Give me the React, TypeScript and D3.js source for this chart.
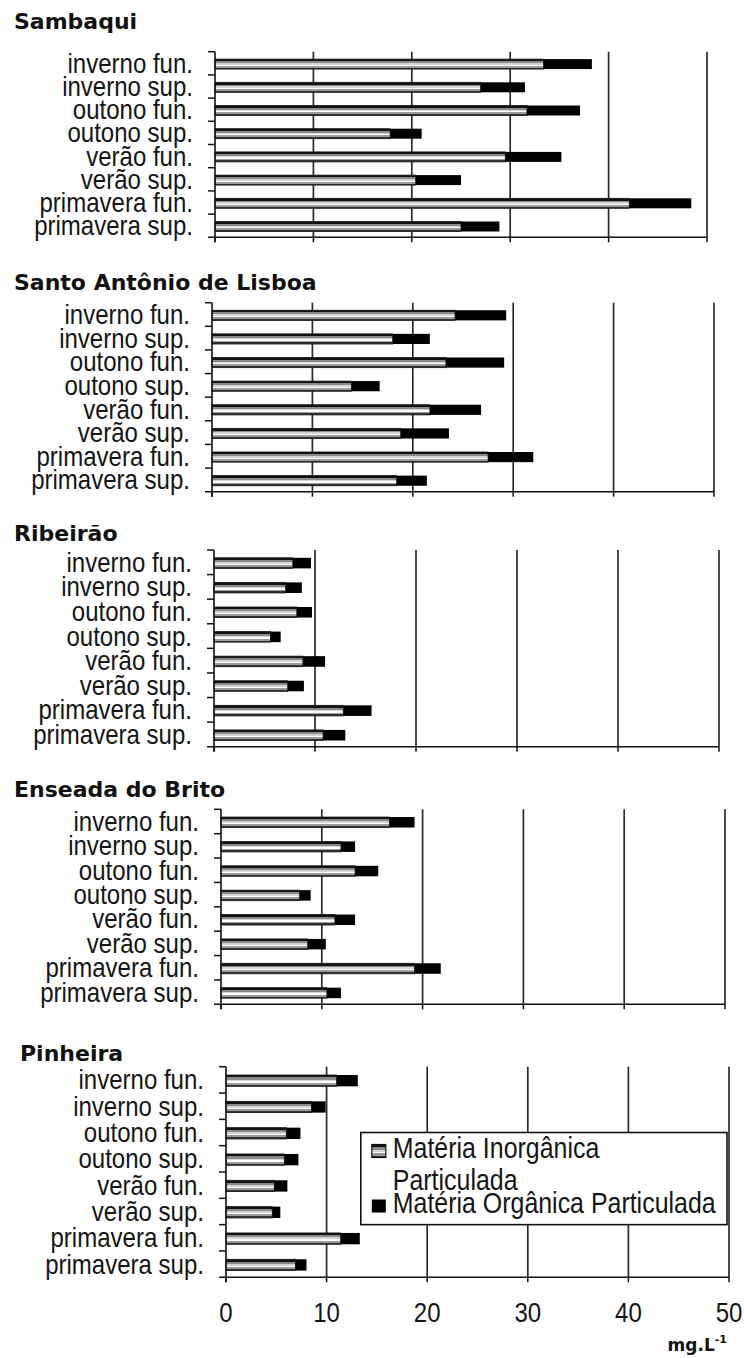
import React from "react";
import * as d3 from "d3";

const categories = [
  "inverno fun.",
  "inverno sup.",
  "outono fun.",
  "outono sup.",
  "verão fun.",
  "verão sup.",
  "primavera fun.",
  "primavera sup.",
];

const siteNames = ["Sambaqui", "Santo Antônio de Lisboa", "Ribeirão", "Enseada do Brito", "Pinheira"];

// Matéria Inorgânica Particulada (mg/L)
const sambaquiInorg = [33.4, 27.0, 31.7, 17.8, 29.5, 20.4, 42.1, 25.0];
const santoAntonioInorg = [24.2, 18.0, 23.3, 13.9, 21.7, 18.8, 27.5, 18.4];
const ribeiraoInorg = [7.8, 7.1, 8.2, 5.6, 8.8, 7.3, 12.8, 10.8];
const enseadaInorg = [16.7, 11.9, 13.3, 7.8, 11.3, 8.6, 19.2, 10.5];
const pinheiraInorg = [11.0, 8.5, 6.0, 5.8, 4.8, 4.6, 11.4, 6.9];

// Matéria Orgânica Particulada (mg/L)
const sambaquiOrg = [4.9, 4.5, 5.4, 3.2, 5.7, 4.6, 6.3, 3.9];
const santoAntonioOrg = [5.1, 3.7, 5.8, 2.8, 5.1, 4.8, 4.5, 3.0];
const ribeiraoOrg = [1.8, 1.6, 1.5, 1.0, 2.2, 1.6, 2.8, 2.2];
const enseadaOrg = [2.5, 1.4, 2.3, 1.1, 2.0, 1.8, 2.6, 1.4];
const pinheiraOrg = [2.1, 1.4, 1.4, 1.4, 1.3, 0.8, 1.9, 1.1];

const xTicks = [0, 10, 20, 30, 40, 50];
const legendLines = ["Matéria Inorgânica", "Particulada", "Matéria Orgânica Particulada"];
const unitMain = "mg.L";
const unitSup = "-1";

const inorgSeries = [sambaquiInorg, santoAntonioInorg, ribeiraoInorg, enseadaInorg, pinheiraInorg];
const orgSeries = [sambaquiOrg, santoAntonioOrg, ribeiraoOrg, enseadaOrg, pinheiraOrg];

// panel frames (layout only)
const frames = [
  { tx: 14, ty: 29, top: 51.7, bottom: 237.3, left: 215, right: 707 },
  { tx: 14, ty: 290, top: 302.7, bottom: 491.7, left: 212, right: 714 },
  { tx: 14, ty: 541, top: 550, bottom: 746.7, left: 214, right: 719 },
  { tx: 14, ty: 797, top: 809.3, bottom: 1004.3, left: 221, right: 725 },
  { tx: 20, ty: 1061, top: 1066.7, bottom: 1277.3, left: 226, right: 729 },
];

const LABEL_FONT = "'Liberation Sans', Arial, sans-serif";
const TITLE_FONT = "'DejaVu Sans', Verdana, sans-serif";
const SX = 0.89;
const LFS = 27;

function Panel({ idx }: { idx: number }) {
  const f = frames[idx];
  const inorg = inorgSeries[idx];
  const org = orgSeries[idx];
  const x = d3.scaleLinear().domain([0, 50]).range([f.left, f.right]);
  const y = d3.scaleBand<string>().domain(categories).range([f.top, f.bottom]).paddingInner(0).paddingOuter(0);
  const bw = y.bandwidth();
  const barH = bw * 0.43;
  const isLast = idx === frames.length - 1;
  const boundaries = d3.range(categories.length).map((i) => f.top + i * bw);

  return (
    <g>
      <text x={f.tx} y={f.ty} fontFamily={TITLE_FONT} fontWeight="bold" fontSize={22} fill="#111">
        {siteNames[idx]}
      </text>
      {xTicks.slice(1).map((t) => (
        <line key={"g" + t} x1={x(t)} x2={x(t)} y1={f.top} y2={f.bottom} stroke="#2a2a2a" strokeWidth={1.7} />
      ))}
      {xTicks.map((t) => (
        <line key={"bt" + t} x1={x(t)} x2={x(t)} y1={f.bottom} y2={f.bottom + 5} stroke="#111" strokeWidth={1.5} />
      ))}
      {categories.map((c, i) => {
        const yc = (y(c) as number) + bw / 2 - barH / 2 + 0.8;
        return (
          <g key={c}>
            <rect x={x(0)} y={yc} width={x(inorg[i]) - x(0)} height={barH} fill="url(#stripeGrad)" stroke="#111" strokeWidth={0.8} />
            <rect x={x(inorg[i])} y={yc} width={x(inorg[i] + org[i]) - x(inorg[i])} height={barH} fill="#000" />
          </g>
        );
      })}
      <line x1={x(0)} x2={x(0)} y1={f.top} y2={f.bottom + 5} stroke="#111" strokeWidth={1.6} />
      <line x1={x(0) - 7} x2={x(50)} y1={f.bottom} y2={f.bottom} stroke="#111" strokeWidth={1.6} />
      {boundaries.map((b, i) => (
        <line key={"lt" + i} x1={x(0) - 7} x2={x(0)} y1={b} y2={b} stroke="#111" strokeWidth={1.5} />
      ))}
      {categories.map((c) => (
        <text
          key={"l" + c}
          transform={`translate(${x(0) - 22},${(y(c) as number) + bw / 2 + 9.5}) scale(${SX},1)`}
          textAnchor="end"
          fontFamily={LABEL_FONT}
          fontSize={LFS}
          fill="#151515"
        >
          {c}
        </text>
      ))}
      {isLast && (
        <g>
          {xTicks.map((t) => (
            <text
              key={"tl" + t}
              transform={`translate(${x(t)},${f.bottom + 45}) scale(${SX},1)`}
              textAnchor="middle"
              fontFamily={LABEL_FONT}
              fontSize={LFS}
              fill="#151515"
            >
              {t}
            </text>
          ))}
          <text x={x(50) - 2} y={f.bottom + 74} textAnchor="end" fontFamily={TITLE_FONT} fontWeight="bold" fontSize={17} fill="#111">
            {unitMain}
            <tspan fontSize={11} dy={-8}>{unitSup}</tspan>
          </text>
          <Legend f={f} bw={bw} x={x} />
        </g>
      )}
    </g>
  );
}

function Legend({ f, bw, x }: { f: any; bw: number; x: d3.ScaleLinear<number, number> }) {
  const top = f.top + bw * 2.5;
  const bottom = f.top + bw * 6;
  const left = x(13.4);
  const right = x(50) - 2;
  const baselines = [top + 25, top + 57, top + 80];
  const sw = 14;
  return (
    <g>
      <rect x={left} y={top} width={right - left} height={bottom - top} fill="#fff" stroke="#111" strokeWidth={1.6} />
      <rect x={left + 11} y={baselines[0] - 13} width={sw} height={sw - 1} fill="url(#stripeGrad)" stroke="#111" strokeWidth={1.2} />
      <rect x={left + 11} y={baselines[2] - 13} width={sw} height={sw - 1} fill="#000" />
      {legendLines.map((t, i) => (
        <text
          key={t}
          transform={`translate(${left + 32},${baselines[i]}) scale(0.86,1)`}
          fontFamily={LABEL_FONT}
          fontSize={29}
          fill="#151515"
        >
          {t}
        </text>
      ))}
    </g>
  );
}

export default function App() {
  return (
    <svg
      width={744}
      height={1358}
      viewBox="0 0 744 1358"
      style={{ position: "absolute", left: 0, top: 0, display: "block", background: "#fff" }}
    >
      <defs>
        <linearGradient id="stripeGrad" x1="0" y1="0" x2="0" y2="1">
          <stop offset="0" stopColor="#111" />
          <stop offset="0.22" stopColor="#111" />
          <stop offset="0.22" stopColor="#8a8a8a" />
          <stop offset="0.4" stopColor="#8a8a8a" />
          <stop offset="0.4" stopColor="#d4d4d4" />
          <stop offset="0.55" stopColor="#d4d4d4" />
          <stop offset="0.55" stopColor="#ffffff" />
          <stop offset="0.68" stopColor="#ffffff" />
          <stop offset="0.68" stopColor="#9a9a9a" />
          <stop offset="0.85" stopColor="#9a9a9a" />
          <stop offset="0.85" stopColor="#333" />
          <stop offset="1" stopColor="#333" />
        </linearGradient>
      </defs>
      <rect x={0} y={0} width={744} height={1358} fill="#fff" />
      {frames.map((_, i) => (
        <Panel key={i} idx={i} />
      ))}
    </svg>
  );
}
